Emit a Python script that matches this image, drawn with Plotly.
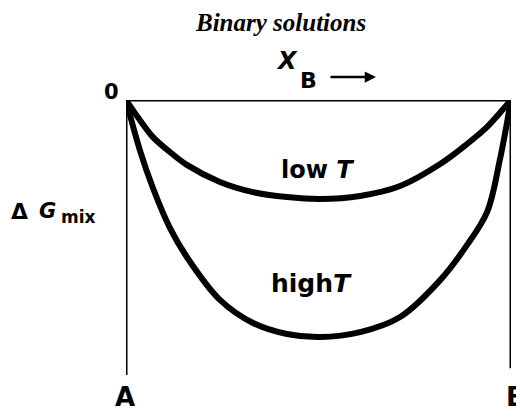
import plotly.graph_objects as go

# Mole fraction of B (0 = pure A, 1 = pure B)
xb = [0.0, 0.036, 0.070, 0.114, 0.158, 0.244, 0.330, 0.418, 0.504, 0.608, 0.712, 0.816, 0.886, 0.938, 0.971, 1.0]
# Free energy of mixing (arbitrary units), low temperature
g_low = [0.0, -0.073, -0.135, -0.189, -0.236, -0.298, -0.335, -0.353, -0.360, -0.349, -0.313, -0.233, -0.160, -0.098, -0.047, 0.0]
# Free energy of mixing (arbitrary units), high temperature
g_high = [0.0, -0.182, -0.320, -0.465, -0.571, -0.727, -0.811, -0.851, -0.862, -0.844, -0.789, -0.655, -0.527, -0.407, -0.218, 0.0]

frame_x = [0, 0, None, 0, 1, None, 1, 1]
frame_y = [-1.0, 0, None, 0, 0, None, 0, -0.975]

W, H = 516, 414
L, R, T, B = 126, 5, 100, 39
PW, PH = W - L - R, H - T - B


def px(x):
    return (x - L) / PW


def py(y):
    return 1 - (y - T) / PH


fig = go.Figure()
fig.add_trace(go.Scatter(x=frame_x, y=frame_y, mode="lines",
                         line=dict(color="black", width=3), cliponaxis=False,
                         hoverinfo="skip"))
fig.add_trace(go.Scatter(x=xb, y=g_low, mode="lines", name="low T",
                         line=dict(color="black", width=6, shape="spline"),
                         cliponaxis=False))
fig.add_trace(go.Scatter(x=xb, y=g_high, mode="lines", name="high T",
                         line=dict(color="black", width=6, shape="spline"),
                         cliponaxis=False))

sans = "DejaVu Sans, Liberation Sans, sans-serif"


def txt(x, y, text, size, family=sans):
    return dict(x=px(x), y=py(y), xref="paper", yref="paper", text=text,
                showarrow=False, xanchor="center", yanchor="middle",
                font=dict(family=family, size=size, color="black"))


ann = [
    txt(280, 23, "<b><i>Binary solutions</i></b>", 25, "Liberation Serif, serif"),
    txt(111, 92, "<b>0</b>", 21),
    txt(287, 61, "<b><i>X</i></b>", 24),
    txt(308, 80, "<b>B</b>", 22),
    txt(19, 211, "<b>Δ</b>", 22),
    txt(47, 211, "<b><i>G</i></b>", 21),
    txt(78, 217, "<b>mix</b>", 17),
    txt(317, 170, "<b>low <i>T</i></b>", 24),
    txt(311, 283, "<b>high<i>T</i></b>", 25),
    txt(125, 397, "<b>A</b>", 26),
    txt(516, 397, "<b>B</b>", 26),
    # arrow after X_B
    dict(x=px(376), y=py(77), ax=-47, ay=0, xref="paper", yref="paper",
         axref="pixel", ayref="pixel", text="", showarrow=True,
         arrowhead=2, arrowsize=0.9, arrowwidth=2.5, arrowcolor="black"),
]

fig.update_layout(
    width=W, height=H,
    margin=dict(l=L, r=R, t=T, b=B),
    paper_bgcolor="white", plot_bgcolor="white",
    showlegend=False,
    xaxis=dict(range=[0, 1], visible=False, fixedrange=True),
    yaxis=dict(range=[-1, 0], visible=False, fixedrange=True),
    annotations=ann,
)
fig.write_html(
    "out.html",
    config={"displayModeBar": False},
    post_script="document.body.style.margin='0';document.body.style.overflow='hidden';",
)
